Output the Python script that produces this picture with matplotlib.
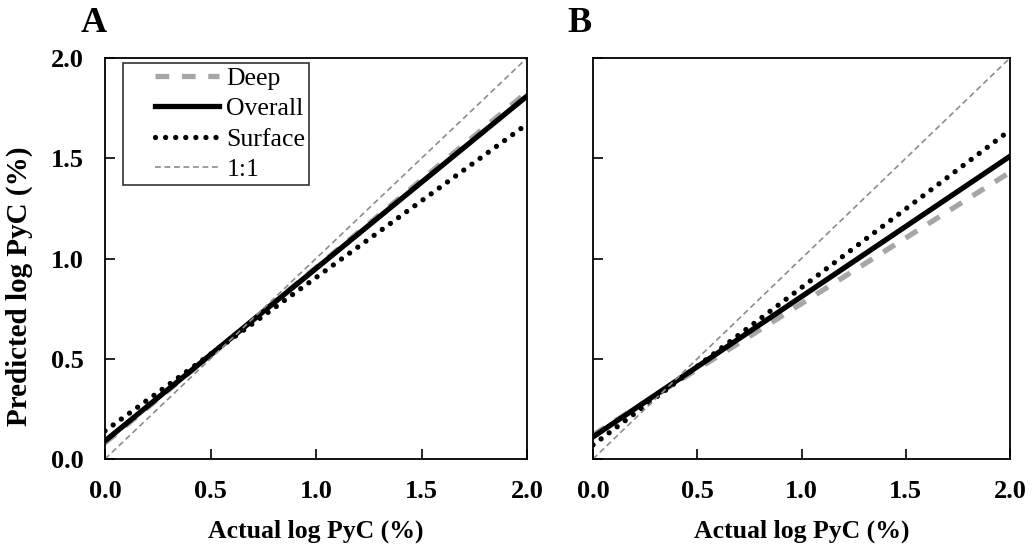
import numpy as np
import matplotlib.pyplot as plt
from matplotlib.legend_handler import HandlerLine2D

plt.rcParams['font.family'] = ['Liberation Serif', 'DejaVu Serif']

# fitted line endpoints (x = 0 and x = 2)
x_ends = [0.0, 2.0]
deep_A = [0.08, 1.83]
overall_A = [0.09, 1.81]
surface_A = [0.14, 1.67]
deep_B = [0.12, 1.43]
overall_B = [0.11, 1.51]
surface_B = [0.07, 1.64]
one_to_one = [0.0, 2.0]

ticks = [0.0, 0.5, 1.0, 1.5, 2.0]
tick_labels = ['0.0', '0.5', '1.0', '1.5', '2.0']


# legend line that leaves some blank room on its left, like the original
class ShortLine(HandlerLine2D):
    def create_artists(self, legend, orig_handle, xdescent, ydescent,
                       width, height, fontsize, trans):
        off = 0.3 * width
        return super().create_artists(legend, orig_handle, xdescent - off, ydescent,
                                      width - off, height, fontsize, trans)


fig = plt.figure(figsize=(10.36, 5.48), dpi=100)
axA = fig.add_axes([105/1036, 1-459/548, 422/1036, 401/548])
axB = fig.add_axes([593/1036, 1-459/548, 417/1036, 401/548])

def draw(ax, deep, overall, surface):
    ax.plot(x_ends, deep, color='#a6a6a6', lw=3.8, ls=(0, (2.6, 2.4)), label='Deep')
    ax.plot(x_ends, overall, color='black', lw=3.8, label='Overall')
    ax.plot(x_ends, surface, color='black', lw=3.8, ls=(0, (0.01, 1.9)),
            dash_capstyle='round', label='Surface')
    ax.plot(x_ends, one_to_one, color='#8c8c8c', lw=1.2, ls=(0, (3.5, 2.2)), label='1:1')
    ax.set_xlim(0, 2)
    ax.set_ylim(0, 2)
    ax.set_xticks(ticks)
    ax.set_yticks(ticks)
    ax.set_xticklabels(tick_labels, fontsize=19, fontweight='bold')
    ax.tick_params(direction='in', length=7, width=1.2, pad=15)
    for s in ax.spines.values():
        s.set_linewidth(1.3)
    ax.set_xlabel('Actual log PyC (%)', fontsize=18.5, fontweight='bold', labelpad=12)

draw(axA, deep_A, overall_A, surface_A)
draw(axB, deep_B, overall_B, surface_B)

axA.set_yticklabels(tick_labels, fontsize=19, fontweight='bold')
axA.tick_params(axis='y', pad=15)
axB.set_yticklabels([])
axA.set_ylabel('Predicted log PyC (%)', fontsize=21, fontweight='bold')
axA.yaxis.set_label_coords(-0.17, 0.43)

leg = axA.legend(loc='upper left', fontsize=18.5, frameon=True, fancybox=False,
                 edgecolor='black', handlelength=3.6, handletextpad=0.27,
                 borderpad=0.15, labelspacing=0.29, borderaxespad=0.0,
                 bbox_to_anchor=(18/422, 1 - 5/401),
                 handler_map={plt.Line2D: ShortLine()})
leg.get_frame().set_linewidth(1.2)

fig.text(81/1036, 1-23/548, 'A', fontsize=26, fontweight='bold', va='center')
fig.text(567/1036, 1-23/548, 'B', fontsize=26, fontweight='bold', va='center')

plt.savefig('out.png', dpi=100)
